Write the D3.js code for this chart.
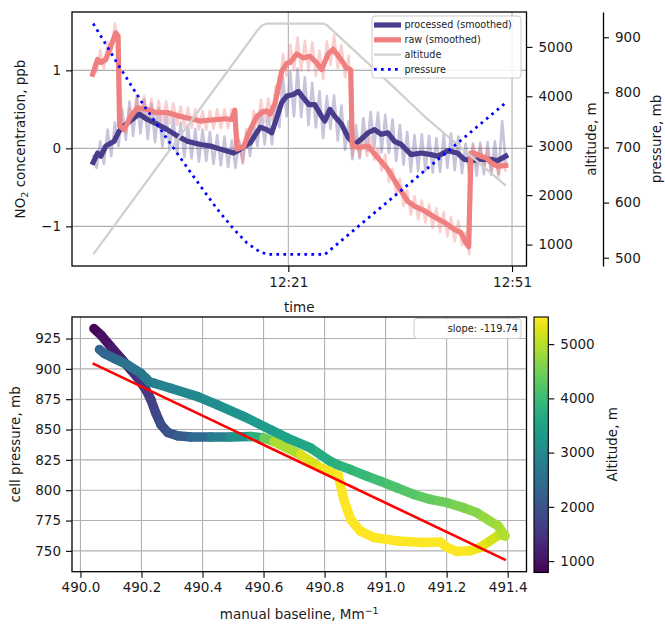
<!DOCTYPE html>
<html><head><meta charset="utf-8">
<script src="https://cdn.jsdelivr.net/npm/d3@7"></script>
<style>
body{margin:0;background:#fff;}
text{font-family:"DejaVu Sans",sans-serif;fill:#1a1a1a;}
</style></head><body>
<svg id="c" width="665" height="626"></svg>
<script>
// ---------------- DATA (top panel) : times in minutes after 12:00 ----------------
const procTime = [-5.17,-4.58,-4.14,-3.47,-2.36,-1.70,-1.03,0.31,0.98,2.10,3.43,4.77,6.10,7.44,9.21,10.55,11.88,13.66,14.55,15.89,17.22,18.12,18.78,19.62,20.12,20.79,21.67,22.34,23.00,23.76,24.56,25.46,25.90,26.57,27.23,28.13,29.01,29.90,30.80,31.68,32.57,33.47,34.35,35.24,36.14,37.47,38.81,40.14,41.03,42.36,43.69,44.59,45.48,46.82,48.15,49.04,50.16];
const procValue = [-0.18,-0.06,-0.10,0.03,0.09,0.22,0.29,0.39,0.44,0.37,0.31,0.24,0.16,0.09,0.05,0.03,-0.01,-0.06,-0.01,0.07,0.27,0.24,0.20,0.44,0.59,0.67,0.69,0.73,0.65,0.56,0.56,0.41,0.35,0.50,0.41,0.31,0.14,0.05,0.12,0.20,0.24,0.18,0.20,0.09,0.05,-0.08,-0.06,-0.08,-0.10,-0.03,-0.06,-0.14,-0.16,-0.14,-0.14,-0.16,-0.10];
const rawTime = [-5.24,-4.58,-4.14,-3.47,-2.80,-2.14,-1.83,-1.63,-1.03,-0.13,0.76,2.10,3.20,4.77,6.10,7.44,9.21,10.28,11.44,12.55,13.44,13.82,14.11,14.99,15.89,16.78,17.62,18.12,18.56,19.22,19.62,20.12,20.79,21.23,22.12,23.00,23.90,24.79,25.46,26.34,27.01,27.90,28.80,29.37,29.57,30.35,31.68,33.01,34.35,35.68,37.02,37.91,39.25,40.58,41.92,43.25,44.15,44.82,45.19,45.48,45.92,46.82,47.49,48.15,49.04,50.16];
const rawValue = [0.95,1.14,1.10,1.14,1.31,1.48,1.44,0.29,0.24,0.41,0.52,0.50,0.46,0.46,0.42,0.39,0.35,0.36,0.37,0.38,0.37,0.49,-0.01,0.02,0.24,0.41,0.47,0.48,0.44,0.58,0.76,0.99,1.09,1.10,1.21,1.16,1.18,1.10,1.01,1.21,1.27,1.16,1.03,1.01,0.04,0.01,0.03,-0.12,-0.27,-0.48,-0.68,-0.74,-0.80,-0.88,-0.95,-1.04,-1.08,-1.21,-1.26,-0.06,-0.06,-0.10,-0.12,-0.18,-0.23,-0.22];
// unsmoothed series, sampled every faintStep minutes from faintStart
const faintStart = -5.20, faintStep = 0.49;
const procFaint = [-0.08,-0.25,0.09,-0.20,0.24,-0.10,0.33,0.03,0.50,0.11,0.60,0.16,0.64,0.19,0.63,0.12,0.57,0.08,0.51,0.02,0.45,-0.02,0.39,-0.07,0.33,-0.11,0.29,-0.13,0.25,-0.17,0.24,-0.16,0.21,-0.20,0.17,-0.22,0.15,-0.24,0.10,-0.25,0.10,-0.18,0.20,-0.10,0.34,0.03,0.49,0.05,0.47,0.05,0.63,0.27,0.91,0.41,0.98,0.41,1.02,0.40,0.91,0.30,0.84,0.27,0.73,0.13,0.67,0.25,0.68,0.10,0.55,-0.02,0.35,-0.14,0.30,-0.13,0.39,-0.03,0.47,0.02,0.46,-0.05,0.43,-0.06,0.37,-0.16,0.30,-0.21,0.21,-0.30,0.17,-0.29,0.18,-0.29,0.16,-0.31,0.13,-0.30,0.18,-0.25,0.19,-0.28,0.15,-0.32,0.06,-0.35,0.06,-0.35,0.07,-0.33,0.08,-0.34,0.09,-0.33,0.35,-0.20];
const rawFaint = [1.00,0.98,1.26,1.02,1.36,1.22,1.60,1.32,0.30,0.20,0.52,0.37,0.68,0.40,0.67,0.37,0.63,0.34,0.61,0.33,0.60,0.32,0.58,0.30,0.54,0.28,0.52,0.26,0.50,0.24,0.48,0.24,0.48,0.25,0.50,0.26,0.50,0.26,0.50,0.35,0.08,-0.20,0.25,0.12,0.48,0.30,0.62,0.34,0.64,0.36,0.80,0.70,1.21,0.93,1.33,1.00,1.42,1.00,1.38,0.99,1.36,0.93,1.25,0.89,1.37,1.07,1.45,1.03,1.32,0.91,1.19,-0.10,0.14,-0.11,0.15,-0.10,0.15,-0.15,0.01,-0.29,-0.08,-0.43,-0.26,-0.59,-0.39,-0.74,-0.54,-0.85,-0.61,-0.91,-0.67,-0.95,-0.72,-1.02,-0.77,-1.07,-0.82,-1.13,-0.88,-1.19,-0.93,-1.24,-1.08,-1.36,0.04,-0.21,0.03,-0.24,-0.01,-0.31,-0.09,-0.36,-0.11,-0.30];
const altTime = [-5.17,9.21,16.95,17.49,18.12,25.63,26.17,35.24,39.24,50.16];
const altValue = [800,3758,5350,5431,5472,5472,5441,4170,3595,2193];
const presTime = [-5.17,-1.91,1.64,5.21,8.32,11.44,13.66,15.45,17.22,18.29,25.90,50.16];
const presValue = [924.9,852.2,775.8,706.7,646.7,588.6,552.2,526.7,510.4,505.9,505.9,781.3];
const timeTickLabels = ["12:21","12:51"];
const no2Ticks = [-1,0,1];
const altTicks = [1000,2000,3000,4000,5000];
const presTicks = [500,600,700,800,900];
const legendLabels = ["processed (smoothed)","raw (smoothed)","altitude","pressure"];

// ---------------- DATA (bottom panel) ----------------
const baseline = [490.044,490.068,490.100,490.133,490.166,490.193,490.215,490.231,490.247,490.264,490.286,490.318,490.362,490.427,490.492,490.558,490.601,490.634,490.721,490.786,490.845,490.863,490.885,490.917,490.961,491.037,491.124,491.179,491.201,491.233,491.277,491.310,491.342,491.374,491.391,491.369,491.342,491.299,491.255,491.201,491.146,491.092,491.037,490.983,490.939,490.885,490.841,490.819,490.754,490.678,490.623,490.536,490.449,490.384,490.296,490.242,490.225,490.215,490.198,490.155,490.111,490.078,490.062];
const cellPressure = [933.2,927.7,918.1,908.6,899.0,890.8,882.6,874.4,863.5,853.9,847.6,844.9,843.8,843.8,843.8,844.3,843.0,840.2,829.3,818.6,812.1,792.4,776.0,766.4,761.0,758.2,756.9,757.4,752.8,749.5,750.0,752.8,758.2,763.7,762.3,770.5,774.6,781.5,785.6,789.7,792.4,796.5,802.0,807.4,811.5,817.0,821.1,823.8,834.8,843.0,849.8,860.7,870.3,877.1,884.0,888.1,889.4,892.2,896.3,903.1,908.6,912.7,916.0];
const scatterAlt = [790,900,1050,1200,1350,1450,1550,1650,1750,1850,1950,2050,2250,2600,2950,3400,4200,4700,5100,5350,5500,5500,5500,5500,5500,5500,5500,5500,5500,5500,5480,5400,5250,5100,5000,4900,4800,4700,4600,4500,4400,4300,4200,4100,4000,3900,3820,3780,3650,3500,3420,3280,3150,3050,2920,2800,2760,2720,2680,2580,2460,2380,2320];
const fitRange = [490.04, 491.394];
const fitAnchor = 904.5;   // fitted pressure at fitRange[0]
const fitSlope = -119.74;
const baselineTicks = [490.0,490.2,490.4,490.6,490.8,491.0,491.2,491.4];
const pressureTicks = [750,775,800,825,850,875,900,925];
const cbTicks = [1000,2000,3000,4000,5000];

// ---------------- helpers ----------------
const T0 = new Date(2020,0,1,12,0,0);
const toDate = m => new Date(T0.getTime() + m*60000);
const pad = ([a,b]) => [a-0.05*(b-a), b+0.05*(b-a)];
const FS = 13.5;
const svg = d3.select("#c");
const gridColor = "#b0b0b0";
const fmtMinus = d => (d<0 ? "\u2212"+Math.abs(d) : String(d));
const fmtInt = d3.format("d");

function styleAxis(g){
  g.selectAll("text").style("font-size",FS+"px").style("font-family","DejaVu Sans").attr("fill","#1a1a1a");
  g.selectAll("line").attr("stroke","#000").attr("stroke-width",1.1);
}

// ================= TOP PANEL =================
const TL=72, TR=526.5, TT=12, TB=266;
const faintTimes = procFaint.map((_,i)=>faintStart+i*faintStep);
const allT = [...procTime,...rawTime,...faintTimes,...altTime,...presTime];
const x = d3.scaleTime().domain(pad(d3.extent(allT)).map(toDate)).range([TL,TR]);
const yN = d3.scaleLinear().domain(pad(d3.extent([...procValue,...rawValue,...procFaint,...rawFaint]))).range([TB,TT]);
const yA = d3.scaleLinear().domain(pad(d3.extent(altValue))).range([TB,TT]);
const yP = d3.scaleLinear().domain(pad(d3.extent(presValue))).range([TB,TT]);
const tickMinutes = timeTickLabels.map(s=>{const [h,m]=s.split(":").map(Number);return (h-12)*60+m;});

const topG = svg.append("g");
topG.append("defs").append("clipPath").attr("id","clipTop").append("rect").attr("x",TL).attr("y",TT).attr("width",TR-TL).attr("height",TB-TT);
// grid
topG.append("g").selectAll("line").data(no2Ticks).join("line")
  .attr("x1",TL).attr("x2",TR).attr("y1",d=>yN(d)).attr("y2",d=>yN(d)).attr("stroke",gridColor).attr("stroke-width",1.1);
topG.append("g").selectAll("line").data(tickMinutes).join("line")
  .attr("x1",d=>x(toDate(d))).attr("x2",d=>x(toDate(d))).attr("y1",TT).attr("y2",TB).attr("stroke",gridColor).attr("stroke-width",1.1);

const plot = topG.append("g").attr("clip-path","url(#clipTop)");
const lineN = (tArr) => d3.line().x((d,i)=>x(toDate(tArr[i]))).y(d=>yN(d));
plot.append("path").datum(procFaint).attr("d",lineN(faintTimes)).attr("fill","none")
  .attr("stroke","#483d8b").attr("stroke-opacity",0.3).attr("stroke-width",2.6).attr("stroke-linejoin","round");
plot.append("path").datum(rawFaint).attr("d",lineN(faintTimes)).attr("fill","none")
  .attr("stroke","#f08080").attr("stroke-opacity",0.38).attr("stroke-width",2.6).attr("stroke-linejoin","round");
plot.append("path").datum(procValue).attr("d",lineN(procTime)).attr("fill","none")
  .attr("stroke","#483d8b").attr("stroke-width",5.2).attr("stroke-linejoin","round").attr("stroke-linecap","square");
plot.append("path").datum(rawValue).attr("d",lineN(rawTime)).attr("fill","none")
  .attr("stroke","#f08080").attr("stroke-width",5.2).attr("stroke-linejoin","round").attr("stroke-linecap","square");
plot.append("path").datum(altValue).attr("d",d3.line().x((d,i)=>x(toDate(altTime[i]))).y(d=>yA(d))).attr("fill","none")
  .attr("stroke","#cfcfcf").attr("stroke-width",2.2).attr("stroke-linejoin","round");
plot.append("path").datum(presValue).attr("d",d3.line().x((d,i)=>x(toDate(presTime[i]))).y(d=>yP(d))).attr("fill","none")
  .attr("stroke","#0000ff").attr("stroke-width",2.7).attr("stroke-dasharray","2.7,4.3");

// legend (top)
const leg = topG.append("g");
leg.append("rect").attr("x",372).attr("y",16).attr("width",149).attr("height",62).attr("rx",3)
  .attr("fill","#fff").attr("fill-opacity",0.85).attr("stroke","#cccccc").attr("stroke-width",1);
const legStyles = [
  {c:"#483d8b",w:5.2,dash:null},{c:"#f08080",w:5.2,dash:null},{c:"#cfcfcf",w:2.2,dash:null},{c:"#0000ff",w:2.7,dash:"2.7,4.3"}];
legendLabels.forEach((lab,i)=>{
  const yy = 25 + i*14.8;
  const l = leg.append("line").attr("x1",374).attr("x2",401).attr("y1",yy).attr("y2",yy)
    .attr("stroke",legStyles[i].c).attr("stroke-width",legStyles[i].w);
  if(legStyles[i].dash) l.attr("stroke-dasharray",legStyles[i].dash);
  leg.append("text").attr("x",404.5).attr("y",yy).attr("dy","0.35em").style("font-size","9.6px").text(lab);
});

// spines
topG.append("rect").attr("x",TL).attr("y",TT).attr("width",TR-TL).attr("height",TB-TT).attr("fill","none").attr("stroke","#000").attr("stroke-width",1.3);
// axes
const axL = topG.append("g").attr("transform",`translate(${TL},0)`)
  .call(d3.axisLeft(yN).tickValues(no2Ticks).tickSize(6).tickPadding(5).tickFormat(fmtMinus));
axL.select(".domain").remove(); styleAxis(axL);
const axB = topG.append("g").attr("transform",`translate(0,${TB})`)
  .call(d3.axisBottom(x).tickValues(tickMinutes.map(toDate)).tickSize(6).tickPadding(5).tickFormat(d3.timeFormat("%H:%M")));
axB.select(".domain").remove(); styleAxis(axB);
const axA = topG.append("g").attr("transform",`translate(${TR},0)`)
  .call(d3.axisRight(yA).tickValues(altTicks).tickSize(6).tickPadding(6).tickFormat(fmtInt));
axA.select(".domain").remove(); styleAxis(axA);
const axP = topG.append("g").attr("transform",`translate(603,0)`)
  .call(d3.axisRight(yP).tickValues(presTicks).tickSize(6).tickSizeOuter(0).tickPadding(6).tickFormat(fmtInt));
axP.select(".domain").attr("stroke","#000").attr("stroke-width",1.3); styleAxis(axP);

// axis labels
const no2Lab = topG.append("text").attr("transform",`translate(25,${(TT+TB)/2}) rotate(-90)`).attr("text-anchor","middle").style("font-size",FS+"px");
no2Lab.append("tspan").text("NO");
no2Lab.append("tspan").attr("dy",3).style("font-size","9.5px").text("2");
no2Lab.append("tspan").attr("dy",-3).text(" concentration, ppb");
topG.append("text").attr("transform",`translate(596,${(TT+TB)/2}) rotate(-90)`).attr("text-anchor","middle").style("font-size",FS+"px").text("altitude, m");
topG.append("text").attr("transform",`translate(661,${(TT+TB)/2}) rotate(-90)`).attr("text-anchor","middle").style("font-size",FS+"px").text("pressure, mb");
topG.append("text").attr("x",(TL+TR)/2).attr("y",312).attr("text-anchor","middle").style("font-size",FS+"px").text("time");

// ================= BOTTOM PANEL =================
const BL=72, BR=526.5, BT=317, BB=571.7;
const fitY = fitRange.map(b => fitAnchor + fitSlope*(b-fitRange[0]));
const xb = d3.scaleLinear().domain(pad(d3.extent([...baseline,...fitRange]))).range([BL,BR]);
const yb = d3.scaleLinear().domain(pad(d3.extent([...cellPressure,...fitY]))).range([BB,BT]);
const color = d3.scaleSequential(d3.interpolateViridis).domain(d3.extent(scatterAlt));
const bot = svg.append("g");
bot.append("defs").append("clipPath").attr("id","clipBot").append("rect").attr("x",BL).attr("y",BT).attr("width",BR-BL).attr("height",BB-BT);
bot.append("g").selectAll("line").data(pressureTicks).join("line")
  .attr("x1",BL).attr("x2",BR).attr("y1",d=>yb(d)).attr("y2",d=>yb(d)).attr("stroke",gridColor).attr("stroke-width",1.1);
bot.append("g").selectAll("line").data(baselineTicks).join("line")
  .attr("x1",d=>xb(d)).attr("x2",d=>xb(d)).attr("y1",BT).attr("y2",BB).attr("stroke",gridColor).attr("stroke-width",1.1);
const bp = bot.append("g").attr("clip-path","url(#clipBot)");
const segs = d3.range(baseline.length-1);
bp.selectAll("line.seg").data(segs).join("line").attr("class","seg")
  .attr("x1",i=>xb(baseline[i])).attr("y1",i=>yb(cellPressure[i]))
  .attr("x2",i=>xb(baseline[i+1])).attr("y2",i=>yb(cellPressure[i+1]))
  .attr("stroke",i=>color((scatterAlt[i]+scatterAlt[i+1])/2)).attr("stroke-width",9.5).attr("stroke-linecap","round");
bp.append("line").attr("x1",xb(fitRange[0])).attr("y1",yb(fitY[0])).attr("x2",xb(fitRange[1])).attr("y2",yb(fitY[1]))
  .attr("stroke","#ff0000").attr("stroke-width",2.6);
// slope legend
bot.append("rect").attr("x",414).attr("y",318.5).attr("width",107).attr("height",20).attr("rx",3)
  .attr("fill","#fff").attr("fill-opacity",0.85).attr("stroke","#cccccc").attr("stroke-width",1);
bot.append("text").attr("x",518).attr("y",328.5).attr("dy","0.35em").attr("text-anchor","end").style("font-size","9.8px").text("slope: "+fitSlope.toFixed(2));
bot.append("rect").attr("x",BL).attr("y",BT).attr("width",BR-BL).attr("height",BB-BT).attr("fill","none").attr("stroke","#000").attr("stroke-width",1.3);
const bxL = bot.append("g").attr("transform",`translate(${BL},0)`).call(d3.axisLeft(yb).tickValues(pressureTicks).tickSize(6).tickPadding(5));
bxL.select(".domain").remove(); styleAxis(bxL);
const bxB = bot.append("g").attr("transform",`translate(0,${BB})`).call(d3.axisBottom(xb).tickValues(baselineTicks).tickSize(6).tickPadding(5).tickFormat(d3.format(".1f")));
bxB.select(".domain").remove(); styleAxis(bxB);
bot.append("text").attr("transform",`translate(19.5,${(BT+BB)/2}) rotate(-90)`).attr("text-anchor","middle").style("font-size",FS+"px").text("cell pressure, mb");
const mbl = bot.append("text").attr("x",(BL+BR)/2).attr("y",619).attr("text-anchor","middle").style("font-size",FS+"px");
mbl.append("tspan").text("manual baseline, Mm");
mbl.append("tspan").attr("dy",-5).style("font-size","9.5px").text("\u22121");

// colorbar
const CX=534, CW=14.3;
const ycb = d3.scaleLinear().domain(color.domain()).range([BB+0.8,BT]);
const grad = svg.append("defs").append("linearGradient").attr("id","vir").attr("x1",0).attr("y1",1).attr("x2",0).attr("y2",0);
d3.range(0,1.0001,0.05).forEach(t=>grad.append("stop").attr("offset",t).attr("stop-color",d3.interpolateViridis(t)));
bot.append("rect").attr("x",CX).attr("y",BT).attr("width",CW).attr("height",ycb.range()[0]-BT).attr("fill","url(#vir)").attr("stroke","#000").attr("stroke-width",1.1);
const cbA = bot.append("g").attr("transform",`translate(${CX+CW},0)`).call(d3.axisRight(ycb).tickValues(cbTicks).tickSize(6).tickPadding(6).tickFormat(fmtInt));
cbA.select(".domain").remove(); styleAxis(cbA);
bot.append("text").attr("transform",`translate(617,${(BT+BB)/2}) rotate(-90)`).attr("text-anchor","middle").style("font-size",FS+"px").text("Altitude, m");
</script>
</body></html>
